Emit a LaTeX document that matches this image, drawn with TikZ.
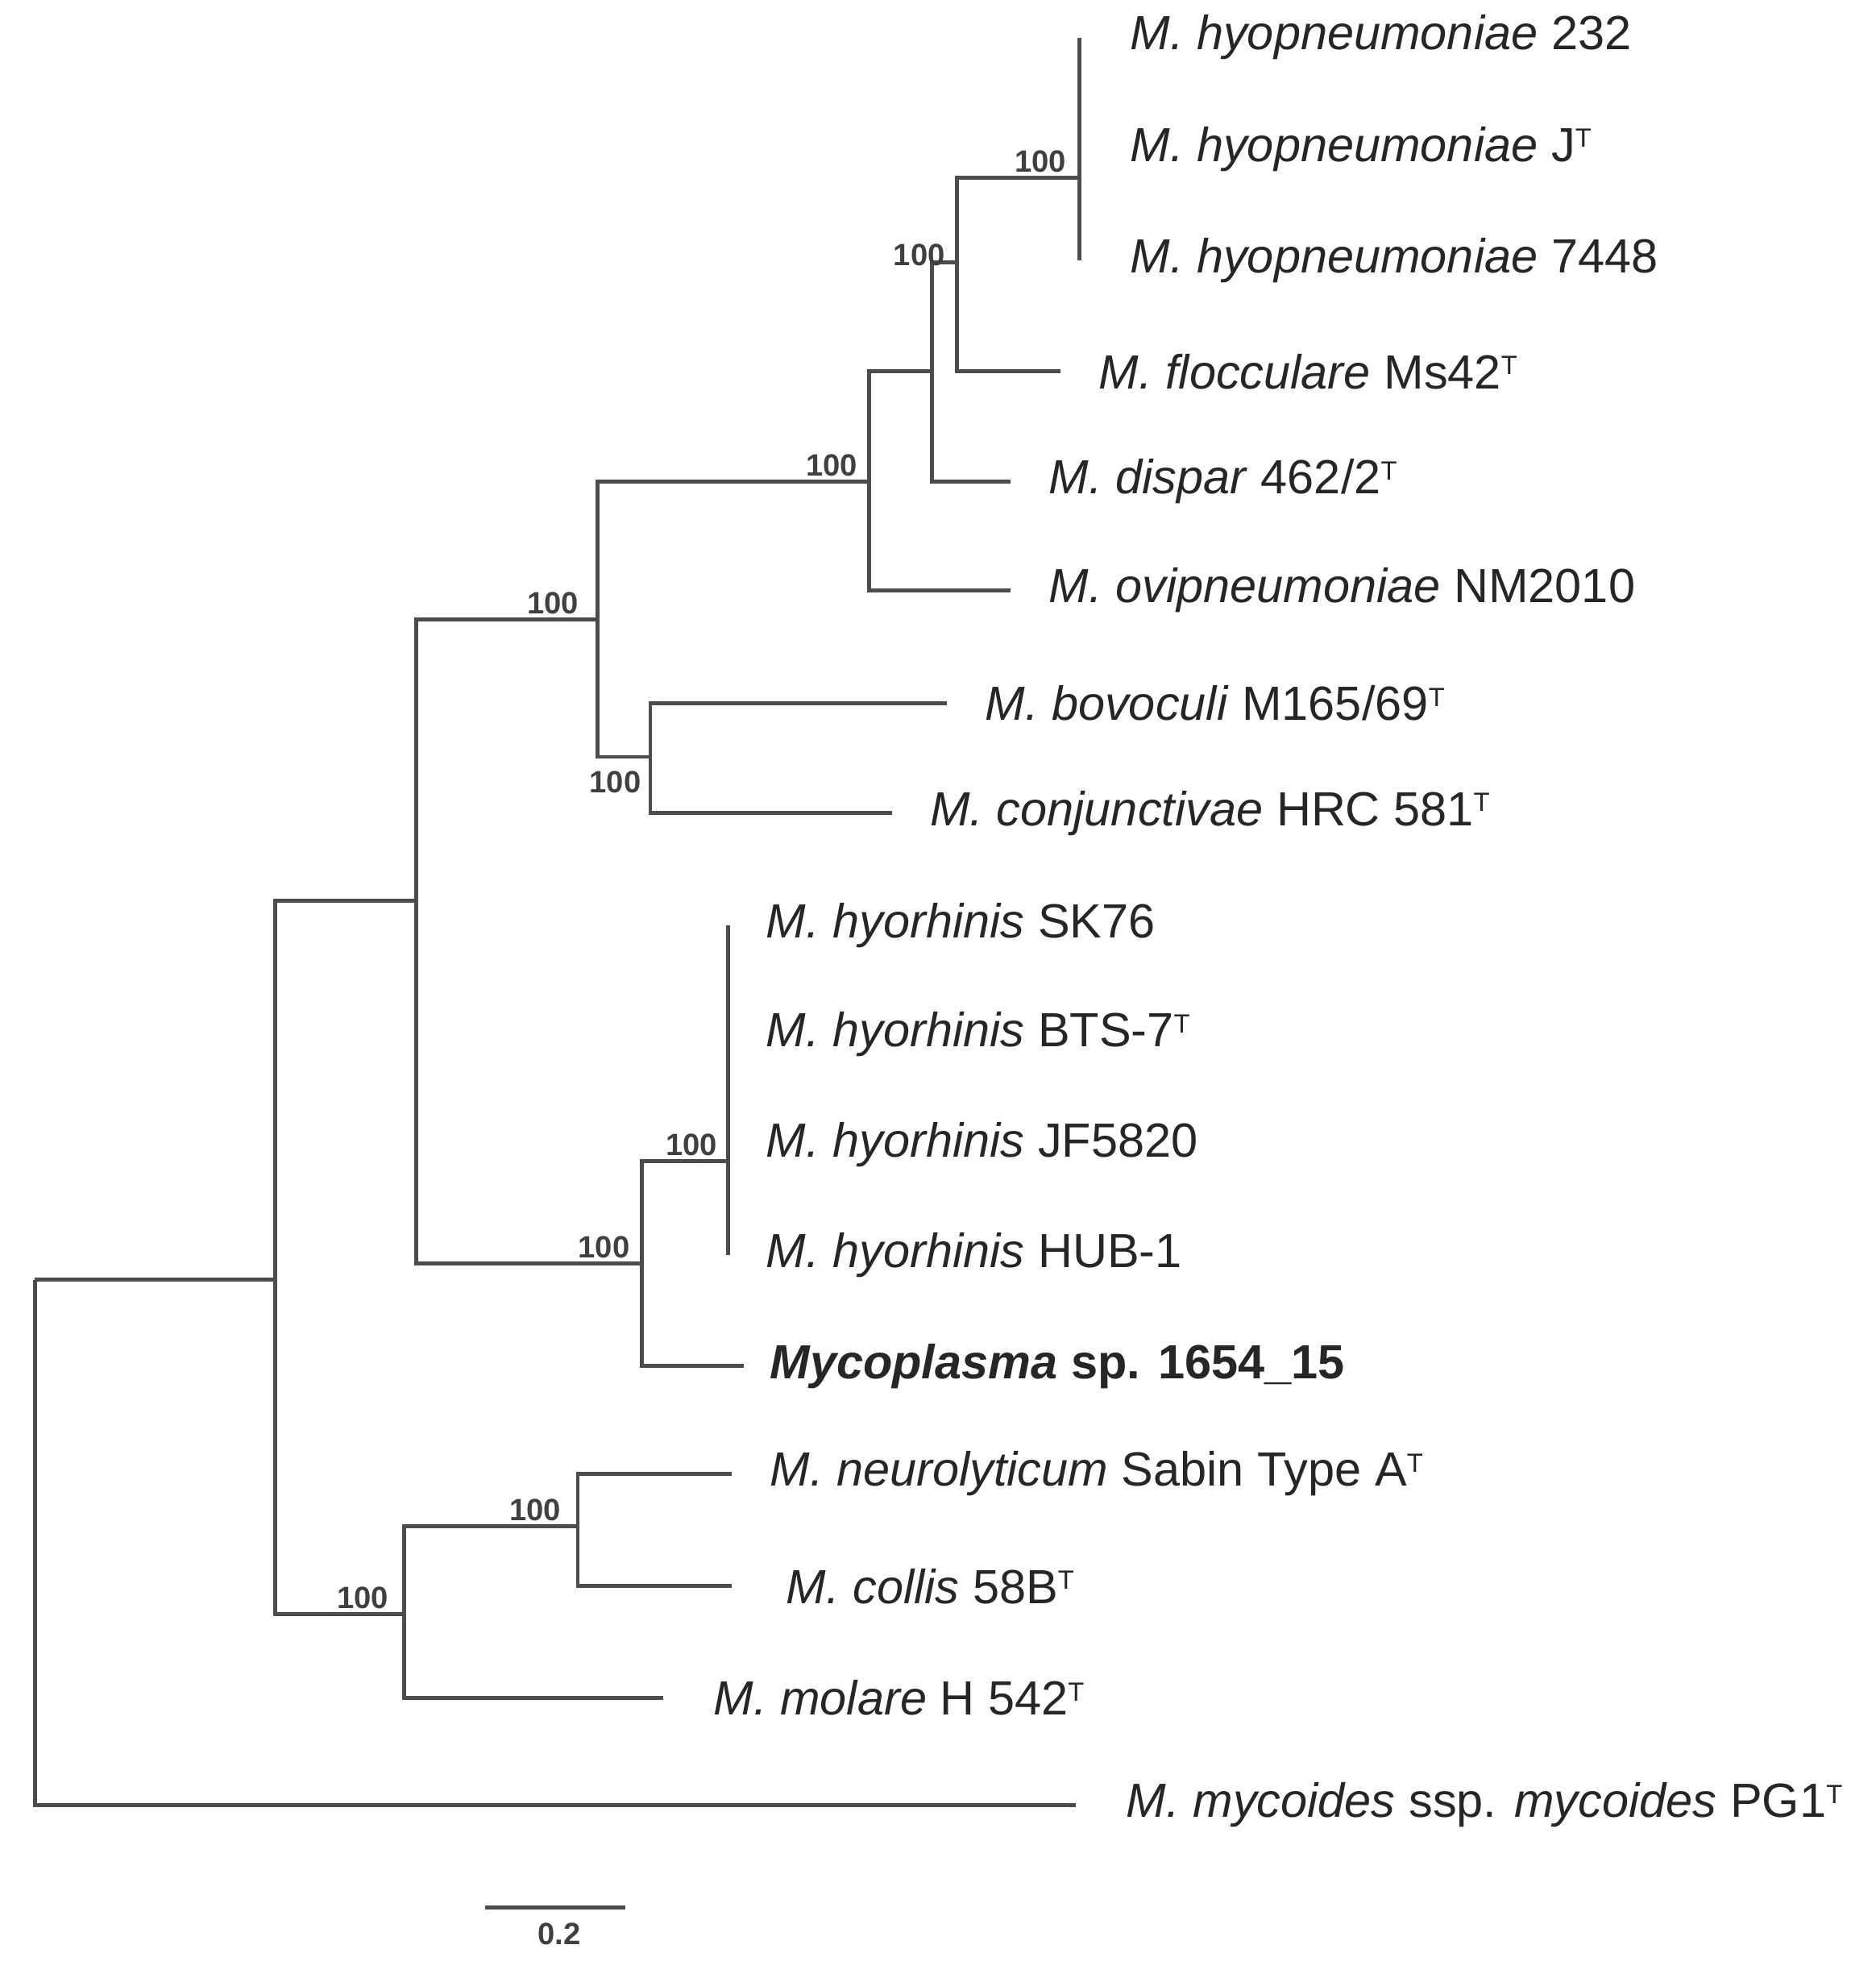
\documentclass[tikz,border=0pt]{standalone}
\usepackage{fontspec}
\setmainfont{Liberation Sans}
\newcommand{\typ}{\raisebox{0.55ex}{\fontsize{6}{6}\selectfont T}}
\begin{document}
\begin{tikzpicture}[x=0.01cm,y=-0.01cm,
  br/.style={draw=black!70,line width=0.9pt},
  leaf/.style={anchor=west,inner sep=0pt,font=\fontsize{10.9}{12}\selectfont,text=black!85,xshift=0.3cm},
  bs/.style={anchor=south,inner sep=1pt,font=\bfseries\fontsize{7}{8}\selectfont,text=black!75}]
\useasboundingbox (0,0) rectangle (1500,1578);
% internal nodes
\coordinate (R) at (28,1023);
\coordinate (A) at (220,1023);
\coordinate (B) at (333,720);
\coordinate (C) at (323,1290);
\coordinate (D) at (462,1220);
\coordinate (E) at (478,495);
\coordinate (F) at (513,1010);
\coordinate (G) at (582,928);
\coordinate (H) at (695,385);
\coordinate (I) at (520,605);
\coordinate (J) at (745,297);
\coordinate (K) at (765,210);
\coordinate (L) at (863,142);
% leaf ends
\coordinate (l1) at (863,30);
\coordinate (l2) at (863,119);
\coordinate (l3) at (863,208);
\coordinate (l4) at (848,297);
\coordinate (l5) at (808,385);
\coordinate (l6) at (808,472);
\coordinate (l7) at (757,562);
\coordinate (l8) at (713,650);
\coordinate (l9) at (582,740);
\coordinate (l10) at (582,827);
\coordinate (l11) at (582,915);
\coordinate (l12) at (582,1003);
\coordinate (l13) at (595,1092);
\coordinate (l14) at (585,1178);
\coordinate (l15) at (585,1268);
\coordinate (l16) at (530,1357);
\coordinate (l17) at (860,1443);
% branches
\draw[br] (R) -- (A);
\draw[br] (R) |- (l17);
\draw[br] (A) |- (B);
\draw[br] (A) |- (C);
\draw[br] (B) |- (E);
\draw[br] (B) |- (F);
\draw[br] (C) |- (D);
\draw[br] (C) |- (l16);
\draw[br] (D) |- (l14);
\draw[br] (D) |- (l15);
\draw[br] (E) |- (H);
\draw[br] (E) |- (I);
\draw[br] (I) |- (l7);
\draw[br] (I) |- (l8);
\draw[br] (H) |- (J);
\draw[br] (H) |- (l6);
\draw[br] (J) |- (K);
\draw[br] (J) |- (l5);
\draw[br] (K) |- (L);
\draw[br] (K) |- (l4);
\draw[br] (L) |- (l1);
\draw[br] (L) |- (l2);
\draw[br] (L) |- (l3);
\draw[br] (F) |- (G);
\draw[br] (F) |- (l13);
\draw[br] (G) |- (l9);
\draw[br] (G) |- (l10);
\draw[br] (G) |- (l11);
\draw[br] (G) |- (l12);
% leaf labels
\node[leaf,xshift=0.1cm] (t1) at (l1) {\textit{M. hyopneumoniae} 232};
\node[leaf,xshift=0.1cm] (t2) at (l2) {\textit{M. hyopneumoniae} J\typ};
\node[leaf,xshift=0.1cm] (t3) at (l3) {\textit{M. hyopneumoniae} 7448};
\node[leaf] (t4) at (l4) {\textit{M. flocculare} Ms42\typ};
\node[leaf] (t5) at (l5) {\textit{M. dispar} 462/2\typ};
\node[leaf] (t6) at (l6) {\textit{M. ovipneumoniae} NM2010};
\node[leaf] (t7) at (l7) {\textit{M. bovoculi} M165/69\typ};
\node[leaf] (t8) at (l8) {\textit{M. conjunctivae} HRC 581\typ};
\node[leaf] (t9) at (l9) {\textit{M. hyorhinis} SK76};
\node[leaf] (t10) at (l10) {\textit{M. hyorhinis} BTS-7\typ};
\node[leaf] (t11) at (l11) {\textit{M. hyorhinis} JF5820};
\node[leaf] (t12) at (l12) {\textit{M. hyorhinis} HUB-1};
\node[leaf,xshift=-0.1cm] (t13) at (l13) {\textbf{\textit{Mycoplasma} sp. 1654\_15}};
\node[leaf] (t14) at (l14) {\textit{M. neurolyticum} Sabin Type A\typ};
\node[leaf,xshift=0.13cm] (t15) at (l15) {\textit{M. collis} 58B\typ};
\node[leaf,xshift=0.1cm] (t16) at (l16) {\textit{M. molare} H 542\typ};
\node[leaf,xshift=0.1cm] (t17) at (l17) {\textit{M. mycoides} ssp. \textit{mycoides} PG1\typ};
% bootstrap
\node[bs] (b1) at (832,142) {100};
\node[bs] (b2) at (735,217) {100};
\node[bs] (b3) at (665,385) {100};
\node[bs] (b4) at (442,495) {100};
\node[bs,anchor=north] (b5) at (492,612) {100};
\node[bs] (b6) at (553,928) {100};
\node[bs] (b7) at (483,1010) {100};
\node[bs] (b8) at (428,1220) {100};
\node[bs] (b9) at (290,1290) {100};
% scale bar
\coordinate (s1) at (388,1525);
\coordinate (s2) at (500,1525);
\draw[br] (s1) -- (s2);
\node[bs,anchor=north] (sl) at (447,1533) {0.2};
\end{tikzpicture}
\end{document}
